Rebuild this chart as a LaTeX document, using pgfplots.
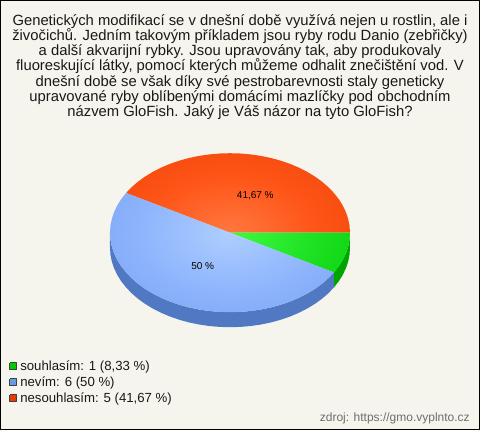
\documentclass[border=0pt]{standalone}
\usepackage{pgfplots}
\pgfplotsset{compat=1.18}
\usepackage{fontspec}
\setmainfont{Liberation Sans}
\definecolor{bgc}{RGB}{245,245,237}
\definecolor{gside}{RGB}{0,165,0}
\definecolor{bside}{RGB}{80,120,195}
\definecolor{gleg}{RGB}{0,204,0}
\definecolor{bleg}{RGB}{102,153,230}
\definecolor{rleg}{RGB}{230,60,0}
\definecolor{srcgray}{RGB}{110,110,110}
\pgfdeclareradialshading{redpie}{\pgfpointorigin}{rgb(0bp)=(1,0.47,0.25); rgb(18bp)=(1,0.33,0.09); rgb(38bp)=(0.93,0.26,0.02); rgb(50bp)=(0.89,0.22,0)}
\pgfdeclareradialshading{bluepie}{\pgfpointorigin}{rgb(0bp)=(0.68,0.81,1); rgb(20bp)=(0.55,0.70,0.99); rgb(40bp)=(0.46,0.63,0.91); rgb(50bp)=(0.42,0.59,0.86)}
\pgfdeclareradialshading{greenpie}{\pgfpointorigin}{rgb(0bp)=(0.25,0.98,0.25); rgb(20bp)=(0.10,0.87,0.12); rgb(40bp)=(0,0.78,0); rgb(50bp)=(0,0.74,0)}
\begin{document}
\begin{tikzpicture}
\begin{axis}[
  width=360pt,height=322.5pt,scale only axis,
  xmin=0,xmax=480,ymin=0,ymax=430,y dir=reverse,
  hide axis,clip=true,unbounded coords=jump,
  every axis plot/.append style={line join=round}
]
% background
\addplot[fill=bgc,draw=none] coordinates {(0,0)(480,0)(480,430)(0,430)(0,0)};
% frame
\addplot[draw=black,line width=0.8pt,fill=none] coordinates {(0.5,0.5)(479.5,0.5)(479.5,429.5)(0.5,429.5)(0.5,0.5)};
% green side
\addplot[fill=gside,draw=none] coordinates {
(350,232.7)(349.54,239.63)(348.18,246.51)(345.91,253.28)(342.76,259.89)(338.76,266.30)(333.92,272.45)
(333.92,287.45)(338.76,281.30)(342.76,274.89)(345.91,268.28)(348.18,261.51)(349.54,254.63)(350,247.7)(350,232.7)};
% blue side
\addplot[fill=bside,draw=none] coordinates {
(333.92,272.45)(328.30,278.30)(321.93,283.80)(314.85,288.92)(307.13,293.60)(298.83,297.82)(290,301.55)(280.71,304.75)(271.04,307.41)(261.06,309.49)(250.84,310.99)(240.46,311.90)(230,312.2)(219.54,311.90)(209.16,310.99)(198.94,309.49)(188.96,307.41)(179.29,304.75)(170,301.55)(161.17,297.82)(152.87,293.60)(145.15,288.92)(138.07,283.80)(131.70,278.30)(126.08,272.45)(121.24,266.30)(117.24,259.89)(114.09,253.28)(111.82,246.51)(110.46,239.63)(110,232.7)
(110,247.7)(110.46,254.63)(111.82,261.51)(114.09,268.28)(117.24,274.89)(121.24,281.30)(126.08,287.45)(131.70,293.30)(138.07,298.80)(145.15,303.92)(152.87,308.60)(161.17,312.82)(170,316.55)(179.29,319.75)(188.96,322.41)(198.94,324.49)(209.16,325.99)(219.54,326.90)(230,327.2)(240.46,326.90)(250.84,325.99)(261.06,324.49)(271.04,322.41)(280.71,319.75)(290,316.55)(298.83,312.82)(307.13,308.60)(314.85,303.92)(321.93,298.80)(328.30,293.30)(333.92,287.45)(333.92,272.45)};
% red slice (isolated points at the ellipse box corners keep the shading centred)
\addplot[shade,shading=redpie,draw=none] coordinates {
(110,153.2)(110,nan)(350,312.2)(350,nan)
(230,232.7)(126.08,192.95)(131.70,187.10)(138.07,181.60)(145.15,176.48)(152.87,171.80)(161.17,167.58)(170,163.85)(179.29,160.65)(188.96,157.99)(198.94,155.91)(209.16,154.41)(219.54,153.50)(230,153.2)(240.46,153.50)(250.84,154.41)(261.06,155.91)(271.04,157.99)(280.71,160.65)(290,163.85)(298.83,167.58)(307.13,171.80)(314.85,176.48)(321.93,181.60)(328.30,187.10)(333.92,192.95)(338.76,199.10)(342.76,205.51)(345.91,212.12)(348.18,218.89)(349.54,225.77)(350,232.7)(230,232.7)};
% green slice
\addplot[shade,shading=greenpie,draw=none] coordinates {
(110,153.2)(110,nan)(350,312.2)(350,nan)
(230,232.7)(350,232.7)(349.54,239.63)(348.18,246.51)(345.91,253.28)(342.76,259.89)(338.76,266.30)(333.92,272.45)(230,232.7)};
% blue slice
\addplot[shade,shading=bluepie,draw=none] coordinates {
(110,153.2)(110,nan)(350,312.2)(350,nan)
(230,232.7)(333.92,272.45)(328.30,278.30)(321.93,283.80)(314.85,288.92)(307.13,293.60)(298.83,297.82)(290,301.55)(280.71,304.75)(271.04,307.41)(261.06,309.49)(250.84,310.99)(240.46,311.90)(230,312.2)(219.54,311.90)(209.16,310.99)(198.94,309.49)(188.96,307.41)(179.29,304.75)(170,301.55)(161.17,297.82)(152.87,293.60)(145.15,288.92)(138.07,283.80)(131.70,278.30)(126.08,272.45)(121.24,266.30)(117.24,259.89)(114.09,253.28)(111.82,246.51)(110.46,239.63)(110,232.7)(110.46,225.77)(111.82,218.89)(114.09,212.12)(117.24,205.51)(121.24,199.10)(126.08,192.95)(230,232.7)};
% legend swatches
\addplot[fill=gleg,draw=black!75,line width=0.5pt] coordinates {(9.8,362.8)(16.4,362.8)(16.4,369.4)(9.8,369.4)(9.8,362.8)};
\addplot[fill=bleg,draw=black!75,line width=0.5pt] coordinates {(9.8,378.8)(16.4,378.8)(16.4,385.4)(9.8,385.4)(9.8,378.8)};
\addplot[fill=rleg,draw=black!75,line width=0.5pt] coordinates {(9.8,394.8)(16.4,394.8)(16.4,401.4)(9.8,401.4)(9.8,394.8)};
% title
\begin{scope}[every node/.style={anchor=base,inner sep=0pt,font=\fontsize{11.1}{13}\selectfont,text=black!90}]
\node at (axis cs:240,25) {Genetických modifikací se v dnešní době využívá nejen u rostlin, ale i};
\node at (axis cs:240,40.3) {živočichů. Jedním takovým příkladem jsou ryby rodu Danio (zebřičky)};
\node at (axis cs:240,55.6) {a další akvarijní rybky. Jsou upravovány tak, aby produkovaly};
\node at (axis cs:240,70.9) {fluoreskující látky, pomocí kterých můžeme odhalit znečištění vod. V};
\node at (axis cs:240,86.2) {dnešní době se však díky své pestrobarevnosti staly geneticky};
\node at (axis cs:240,101.5) {upravované ryby oblíbenými domácími mazlíčky pod obchodním};
\node at (axis cs:240,116.8) {názvem GloFish. Jaký je Váš názor na tyto GloFish?};
\end{scope}
% slice labels
\node[inner sep=0pt,font=\fontsize{7.5}{9}\selectfont] at (axis cs:255.3,196) {41,67 \%};
\node[inner sep=0pt,font=\fontsize{7.5}{9}\selectfont] at (axis cs:202.7,266) {50 \%};
% legend text
\begin{scope}[every node/.style={anchor=base west,inner sep=0pt,font=\fontsize{9.9}{12}\selectfont,text=black!90}]
\node at (axis cs:20,370.5) {souhlasím: 1 (8,33 \%)};
\node at (axis cs:20,386.5) {nevím: 6 (50 \%)};
\node at (axis cs:20,402.5) {nesouhlasím: 5 (41,67 \%)};
\end{scope}
% source
\node[anchor=base east,inner sep=0pt,font=\fontsize{9}{11}\selectfont,text=srcgray] at (axis cs:470,421.7) {zdroj: https://gmo.vyplnto.cz};
\end{axis}
\end{tikzpicture}
\end{document}
